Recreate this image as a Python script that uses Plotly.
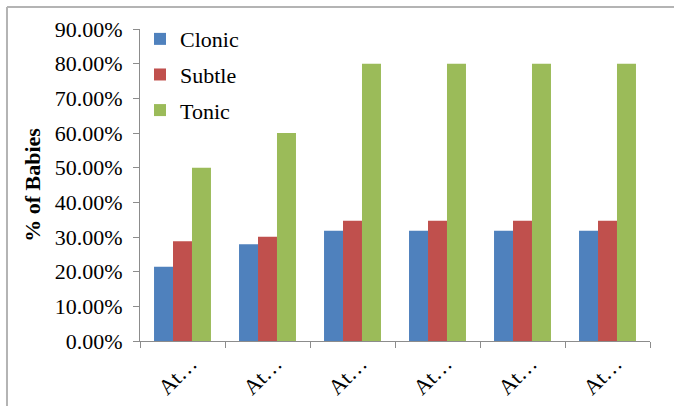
import plotly.graph_objects as go

# Seizure type share per time point
tick_labels = ["At…", "At…", "At…", "At…", "At…", "At…"]
positions = [0, 1, 2, 3, 4, 5]
clonic = [0.214, 0.279, 0.318, 0.318, 0.318, 0.318]
subtle = [0.288, 0.301, 0.347, 0.347, 0.347, 0.347]
tonic = [0.50, 0.60, 0.80, 0.80, 0.80, 0.80]

series = [
    ("Clonic", clonic, "#4F81BD"),
    ("Subtle", subtle, "#C0504D"),
    ("Tonic", tonic, "#9BBB59"),
]

FONT = "Liberation Serif, Times New Roman, serif"
AXIS_GRAY = "#8c8c8c"

fig = go.Figure()
for name, vals, color in series:
    fig.add_trace(go.Bar(
        x=positions, y=vals, name=name, legendgroup=name,
        marker=dict(color=color, line=dict(width=0)),
    ))

fig.update_layout(
    width=674, height=406,
    margin=dict(l=140, r=24, t=29, b=65),
    paper_bgcolor="white", plot_bgcolor="white",
    barmode="group", bargap=0.33, bargroupgap=0,
    font=dict(family=FONT, size=22, color="#000000"),
    showlegend=True,
    legend=dict(
        x=0.0, y=1.035, xanchor="left", yanchor="top",
        bgcolor="rgba(0,0,0,0)", font=dict(size=22),
        tracegroupgap=4, itemwidth=30,
    ),
    xaxis=dict(
        range=[-0.5, 5.5], tickmode="array", tickvals=positions,
        ticktext=tick_labels, tickangle=-45, ticks="",
        ticklabelshift=8,
        showline=True, linecolor=AXIS_GRAY, linewidth=1,
        showgrid=False, zeroline=False, automargin=False,
        minor=dict(tickmode="linear", tick0=-0.5, dtick=1,
                   ticks="outside", ticklen=6, tickcolor=AXIS_GRAY,
                   showgrid=False),
    ),
    yaxis=dict(
        range=[0, 0.9], dtick=0.1, tickformat=".2%",
        ticks="outside", ticklen=6, tickcolor=AXIS_GRAY,
        ticklabelstandoff=6, automargin=False,
        showline=True, linecolor=AXIS_GRAY, linewidth=1,
        showgrid=False, zeroline=False,
        title=dict(text="<b>% of Babies</b>", standoff=8,
                   font=dict(size=22)),
    ),
    shapes=[
        # chart frame (left and top edges)
        dict(type="line", xref="paper", yref="paper",
             x0=-0.2608, x1=-0.2608, y0=1.0705, y1=-0.3,
             line=dict(color="#b4b4b4", width=2)),
        dict(type="line", xref="paper", yref="paper",
             x0=-0.2608, x1=1.2, y0=1.0705, y1=1.0705,
             line=dict(color="#b4b4b4", width=2)),
    ],
)

fig.write_html("out.html")
